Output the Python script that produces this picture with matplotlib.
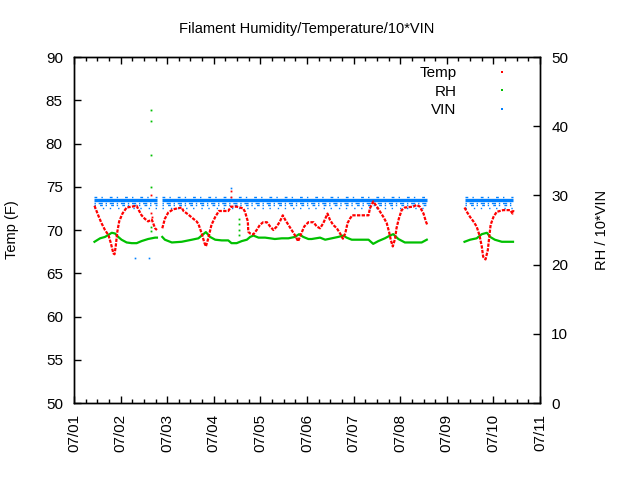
import datetime as dt
import numpy as np
import matplotlib
matplotlib.use("Agg")
import matplotlib.pyplot as plt
import matplotlib.dates as mdates
from matplotlib.lines import Line2D

plt.rcParams['font.family'] = ['Liberation Sans', 'DejaVu Sans']
plt.rcParams['font.size'] = 10

# time is in days after 07/01 00:00, None marks a logging gap
temp_t = [0.44, 0.52, 0.59, 0.665, 0.74, 0.79, 0.845, 0.87, 0.895, 0.93, 0.97, 1.04, 1.13,
          1.24, 1.345, 1.38, 1.45, 1.52, 1.59, 1.67, 1.74, 1.78, None,
          1.895, 1.95, 2.02, 2.13, 2.31, 2.35, 2.45, 2.56, 2.63, 2.67, 2.74, 2.80, 2.83,
          2.88, 2.95, 3.03, 3.11, 3.31, 3.37, 3.49, 3.63, 3.67, 3.73, 3.74, 3.78, 3.85,
          3.92, 3.99, 4.06, 4.14, 4.21, 4.28, 4.35, 4.42, 4.48, 4.53, 4.60, 4.67, 4.74,
          4.81, 4.87, 4.94, 5.03, 5.14, 5.21, 5.28, 5.35, 5.44, 5.49, 5.56, 5.64, 5.71,
          5.77, 5.82, 5.87, 5.92, 5.97, 6.32, 6.35, 6.42, 6.50, 6.57, 6.64, 6.71, 6.76,
          6.80, 6.84, 6.89, 6.92, 6.97, 7.03, 7.10, 7.28, 7.35, 7.42, 7.50, 7.55, 7.58, None,
          8.38, 8.43, 8.50, 8.57, 8.64, 8.70, 8.75, 8.78, 8.83, 8.88, 8.91, 8.94, 9.00,
          9.07, 9.21, 9.36, 9.41, 9.43]
temp_v = [72.8, 71.7, 70.8, 70.0, 69.4, 68.5, 67.3, 67.2, 68.1, 69.8, 71.0, 71.9, 72.6,
          72.7, 72.8, 72.4, 71.7, 71.3, 71.0, 71.2, 70.2, 70.0, None,
          70.2, 71.3, 72.0, 72.4, 72.6, 72.2, 71.8, 71.3, 71.0, 70.7, 69.6, 68.5, 68.1,
          69.0, 70.6, 71.5, 72.2, 72.2, 72.7, 72.7, 72.5, 72.1, 71.0, 69.8, 69.6, 69.5,
          70.0, 70.6, 70.9, 70.9, 70.4, 70.0, 70.4, 71.0, 71.7, 71.2, 70.6, 70.0, 69.4,
          68.7, 69.5, 70.4, 70.9, 70.9, 70.4, 70.2, 70.8, 71.9, 71.2, 70.6, 70.2, 69.6,
          69.0, 69.6, 70.8, 71.3, 71.7, 71.7, 72.5, 73.3, 72.7, 72.1, 71.5, 70.8, 69.8,
          68.8, 68.1, 69.0, 70.2, 71.3, 72.3, 72.6, 72.7, 72.9, 72.7, 71.9, 71.0, 70.6, None,
          72.6, 72.1, 71.5, 71.0, 70.4, 69.4, 68.1, 66.9, 66.6, 67.7, 69.2, 70.6, 71.5,
          72.1, 72.3, 72.3, 71.9, 72.3]
temp_spike_t = [1.66, 1.66, 1.67, 3.37, 3.37]
temp_spike_v = [74.1, 72.0, 71.5, 74.5, 73.8]

rh_t = [0.44, 0.56, 0.665, 0.74, 0.81, 0.88, 0.95, 1.02, 1.13, 1.24, 1.345, 1.45, 1.59,
        1.74, 1.78, None,
        1.895, 1.95, 2.10, 2.31, 2.53, 2.67, 2.74, 2.83, 2.92, 3.03, 3.17, 3.31, 3.38,
        3.49, 3.60, 3.71, 3.78, 3.85, 3.96, 4.10, 4.21, 4.31, 4.46, 4.60, 4.74, 4.83,
        4.92, 5.03, 5.10, 5.28, 5.39, 5.53, 5.67, 5.78, 5.85, 5.96, 6.32, 6.42, 6.53,
        6.67, 6.78, 6.85, 6.96, 7.10, 7.32, 7.46, 7.57, None,
        8.38, 8.50, 8.64, 8.75, 8.86, 8.93, 9.03, 9.18, 9.39, 9.42]
rh_v = [23.3, 23.8, 24.0, 24.3, 24.6, 24.5, 24.0, 23.6, 23.2, 23.1, 23.1, 23.4, 23.7,
        23.9, 23.9, None,
        24.0, 23.6, 23.2, 23.3, 23.6, 23.8, 24.2, 24.7, 24.0, 23.6, 23.5, 23.5, 23.1,
        23.1, 23.4, 23.6, 24.0, 24.2, 23.9, 23.9, 23.8, 23.7, 23.8, 23.8, 24.0, 24.4,
        24.0, 23.7, 23.7, 23.9, 23.6, 23.8, 24.0, 24.2, 23.9, 23.6, 23.6, 23.0, 23.4,
        23.8, 24.2, 24.4, 23.7, 23.2, 23.2, 23.2, 23.6, None,
        23.3, 23.6, 23.8, 24.4, 24.6, 24.0, 23.6, 23.3, 23.3, 23.3]
rh_spike_t = [1.65, 1.65, 1.65, 1.65, 1.65, 1.65, 3.54, 3.54, 3.54, 3.54]
rh_spike_v = [42.3, 40.7, 35.8, 31.2, 25.5, 24.8, 26.6, 25.8, 25.0, 24.3]

# VIN logging runs and its readings (x10): main level plus the noisy levels
vin_start = [0.44, 1.895, 8.38]
vin_end = [1.78, 7.58, 9.42]
vin_main = 29.3
vin_high = 29.75
vin_low = [28.95, 28.6, 28.25]
vin_spike_t = [1.30, 1.62, 3.37]
vin_spike_v = [20.9, 20.9, 31.0]

date_labels = ['07/01', '07/02', '07/03', '07/04', '07/05', '07/06',
               '07/07', '07/08', '07/09', '07/10', '07/11']

t0 = dt.datetime(2014, 7, 1)


def to_dates(days):
    return [t0 + dt.timedelta(days=d) for d in days]


def with_gaps(days, vals):
    xs, ys = [], []
    for d, v in zip(days, vals):
        if d is None:
            xs.append(xs[-1])
            ys.append(np.nan)
        else:
            xs.append(t0 + dt.timedelta(days=d))
            ys.append(v)
    return xs, ys


red = '#ff0000'
green = '#00c000'
blue = '#0080ff'

fig = plt.figure(figsize=(6.4, 4.8), dpi=100)
ax = fig.add_axes([0.1156, 0.1604, 0.7282, 0.7208])
ax2 = ax.twinx()

# VIN on the right axis
low_styles = [(0, (1, 2, 3, 2)), (0, (1, 3, 2, 2)), (0, (1, 5, 1, 4))]
for s, e in zip(vin_start, vin_end):
    xs = to_dates([s, e])
    ax2.plot(xs, [vin_main, vin_main], color=blue, lw=2.4, solid_capstyle='butt')
    ax2.plot(xs, [vin_high, vin_high], color=blue, lw=1.0, ls=(0, (2, 3, 1, 5)))
    for lv, st in zip(vin_low, low_styles):
        ax2.plot(xs, [lv, lv], color=blue, lw=1.0, ls=st)
ax2.plot(to_dates(vin_spike_t), vin_spike_v, ls='none', marker='s', ms=1.2, color=blue, mew=0)

# RH on the right axis
x, y = with_gaps(rh_t, rh_v)
ax2.plot(x, y, color=green, lw=1.6)
ax2.plot(to_dates(rh_spike_t), rh_spike_v, ls='none', marker='s', ms=1.3, color=green, mew=0)

# temperature on the left axis, drawn above the right-axis series
ax.set_zorder(ax2.get_zorder() + 1)
ax.patch.set_visible(False)
x, y = with_gaps(temp_t, temp_v)
ax.plot(x, y, color=red, lw=1.6, ls=(0, (1.5, 0.6)))
ax.plot(to_dates(temp_spike_t), temp_spike_v, ls='none', marker='s', ms=1.3, color=red, mew=0)

ax.set_xlim(t0, t0 + dt.timedelta(days=10))
ax.set_ylim(50, 90)
ax.set_yticks(range(50, 91, 5))
ax2.set_ylim(0, 50)
ax2.set_yticks(range(0, 51, 10))

ax.xaxis.set_minor_locator(mdates.HourLocator(byhour=[6, 12, 18]))
ax.set_xticks(to_dates(range(len(date_labels))))
ax.set_xticklabels(date_labels, rotation=90)

ax.tick_params(axis='x', which='both', direction='in', top=True)
ax.tick_params(axis='x', which='major', length=5, width=1, pad=8)
ax.tick_params(axis='x', which='minor', length=3, width=1)
ax.tick_params(axis='y', direction='in', length=5, width=1, right=False, pad=8)
ax2.tick_params(axis='y', direction='in', length=5, width=1, pad=8)
for a in (ax, ax2):
    for sp in a.spines.values():
        sp.set_linewidth(1.0)
    a.tick_params(labelsize=11)

ax.set_ylabel('Temp (F)', fontsize=10.5, labelpad=19)
ax2.set_ylabel('RH / 10*VIN', fontsize=10.5, labelpad=19)
ax.set_title('Filament Humidity/Temperature/10*VIN', fontsize=10.5, pad=17)

handles = [Line2D([], [], ls='none', marker='s', ms=1.5, mew=0, color=c) for c in (red, green, blue)]
ax.legend(handles, ['Temp', 'RH', 'VIN'], loc='upper right', frameon=False, markerfirst=False,
          fontsize=11, handlelength=3.5, handletextpad=1.2, labelspacing=0.3,
          bbox_to_anchor=(0.995, 1.0), borderaxespad=0.2)

fig.savefig('out.png', dpi=100)
